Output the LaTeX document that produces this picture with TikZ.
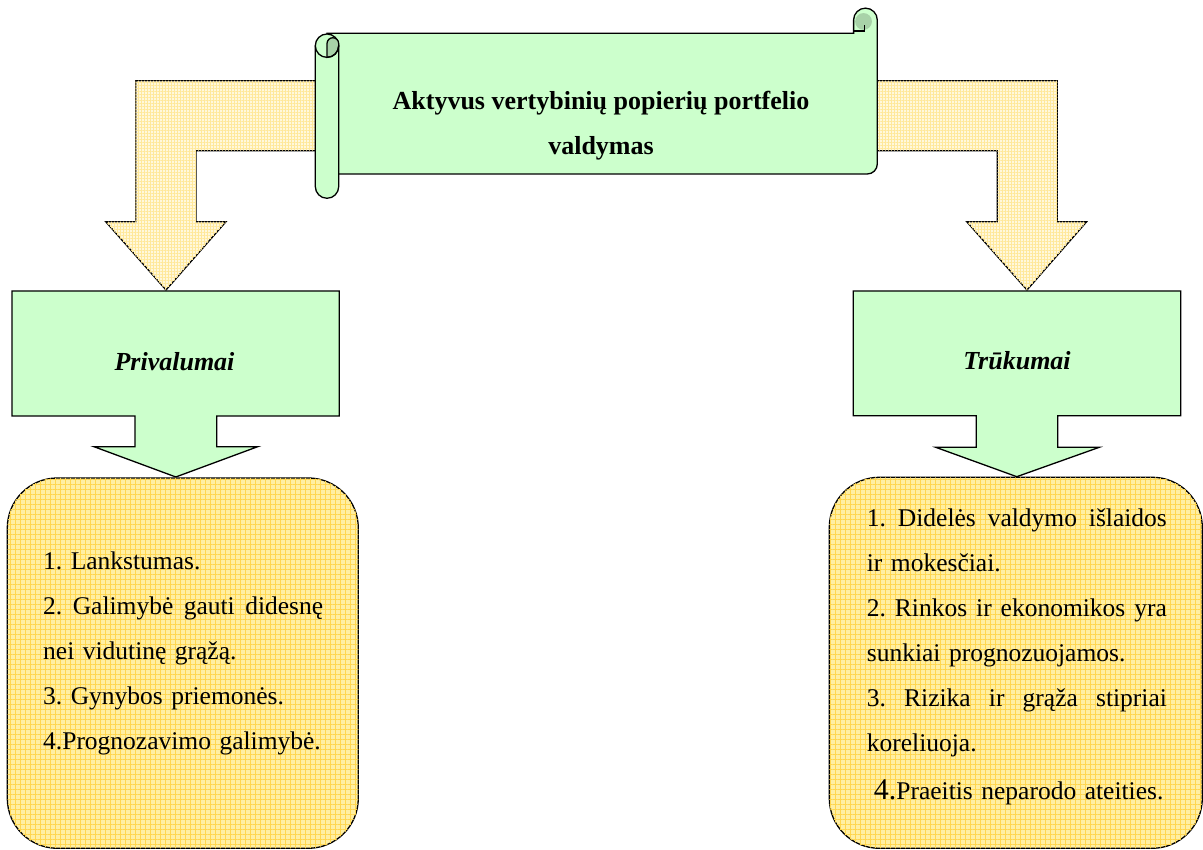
\documentclass[tikz,border=0pt]{standalone}
\usepackage{fontspec}
\setmainfont{Liberation Serif}
\usetikzlibrary{patterns.meta}
\frenchspacing

\definecolor{mint}{HTML}{CCFFCC}
\definecolor{mintdark}{HTML}{A8D2A8}
\definecolor{sandbase}{HTML}{FFEFA3}
\definecolor{sandgrid}{HTML}{FFD64F}
\definecolor{palebase}{HTML}{FFF8DC}
\definecolor{palegrid}{HTML}{FFE89A}

% a justified line: words spread evenly over the given width
\newcommand{\spreadline}[2]{\leavevmode\hbox to #1{#2}}

\tikzset{
  outline/.style={draw=black, line width=1.3pt, line join=miter},
  mintshape/.style={outline, fill=mint},
  gridfill/.style n args={4}{fill=#1,
    postaction={pattern={Lines[angle=0,distance=#3,line width=#4]}, pattern color=#2},
    postaction={pattern={Lines[angle=90,distance=#3,line width=#4]}, pattern color=#2}},
  bentarrow/.style={outline, gridfill={palebase}{palegrid}{3pt}{0.6pt}},
  sandbox/.style={rectangle, rounded corners=50pt, outline,
    gridfill={sandbase}{sandgrid}{5pt}{1pt}, inner sep=0pt},
  listtext/.style={font=\fontsize{25.5}{45}\selectfont, align=left, inner sep=0pt},
  headtext/.style={font=\fontsize{26}{30}\selectfont\bfseries\itshape, inner sep=0pt},
  titletext/.style={font=\fontsize{26}{45}\selectfont\bfseries, align=center, inner sep=0pt}
}

\begin{document}
\begin{tikzpicture}[x=1pt,y=1pt]
\useasboundingbox (0,0) rectangle (1203,850);

% bent arrows leaving the scroll on both sides
\path[bentarrow] (322,769.3) -- (135.7,769.3) -- (135.7,628.3) -- (105.7,628.3)
  -- (166,560) -- (226,628.3) -- (196,628.3) -- (196,699.3) -- (322,699.3) -- cycle;
\path[bentarrow] (870,769.3) -- (1057.3,769.3) -- (1057.3,628.3) -- (1086.7,628.3)
  -- (1027,560) -- (966.7,628.3) -- (997.3,628.3) -- (997.3,699.3) -- (870,699.3) -- cycle;

% scroll body with the top-right curl
\path[mintshape] (327,816.7) -- (853.6,816.7) -- (853.6,830)
  arc[start angle=180,end angle=0,radius=11.85] -- (877.3,686)
  arc[start angle=0,end angle=-90,radius=10] -- (327,676) -- cycle;
\fill[mintdark] (863.5,828.5) circle[radius=8.4];
\draw[outline] (853.6,819) -- (864.3,819) -- (864.3,824.5);

% left roll
\path[mintshape] (315.3,804.3) -- (315.3,663.4)
  arc[start angle=180,end angle=360,radius=11.7] -- (338.7,804.3)
  arc[start angle=0,end angle=180,radius=11.7] -- cycle;
\path[outline, fill=mintdark] (327,792.6) -- (327,806.4)
  arc[start angle=180,end angle=0,radius=5.85] -- (338.7,804.3)
  arc[start angle=0,end angle=-90,radius=11.7] -- cycle;
\draw[outline] (315.3,804.3) arc[start angle=180,end angle=360,radius=11.7];

% the base anchor of this centred two-line node sits on its last line
\node[titletext, anchor=base] (title) at (601,695)
  {Aktyvus vertybinių popierių portfelio\\valdymas};

% down-arrow callouts
\path[mintshape] (12,559) -- (339.3,559) -- (339.3,434) -- (216.7,434) -- (216.7,403.3)
  -- (257.7,403.3) -- (175.8,373) -- (94,403.3) -- (135,403.3) -- (135,434) -- (12,434) -- cycle;
\path[mintshape] (853.3,559) -- (1180.7,559) -- (1180.7,434.3) -- (1057.7,434.3) -- (1057.7,402.7)
  -- (1099.3,402.7) -- (1016.8,373.3) -- (935.7,402.7) -- (976.3,402.7) -- (976.3,434.3) -- (853.3,434.3) -- cycle;
\node[headtext, anchor=base] (pros) at (174.5,479.3) {Privalumai};
\node[headtext, anchor=base] (cons) at (1017,480) {Trūkumai};

% lists
\node[sandbox, minimum width=351pt, minimum height=370.3pt] (prosbox) at (182.8,186.85) {};
\node[sandbox, minimum width=373pt, minimum height=371pt] (consbox) at (1015.8,187.2) {};

\node[listtext, text width=290pt, anchor=base west] (proslist) at (43,280)
  {1. Lankstumas.\\
   \spreadline{280pt}{2.\hfill Galimybė\hfill gauti\hfill didesnę}\\
   nei vidutinę grąžą.\\
   3. Gynybos priemonės.\\
   4.Prognozavimo galimybė.};
\node[listtext, text width=310pt, anchor=base west] (conslist) at (866.7,323.3)
  {\spreadline{300pt}{1.\hfill Didelės\hfill valdymo\hfill išlaidos}\\
   ir mokesčiai.\\
   \spreadline{300pt}{2.\hfill Rinkos\hfill ir\hfill ekonomikos\hfill yra}\\
   sunkiai prognozuojamos.\\
   \spreadline{300pt}{3.\hfill Rizika\hfill ir\hfill grąža\hfill stipriai}\\
   koreliuoja.\\[3pt]
   \hspace*{7pt}{\fontsize{30}{45}\selectfont 4.}Praeitis neparodo ateities.};
\end{tikzpicture}
\end{document}
